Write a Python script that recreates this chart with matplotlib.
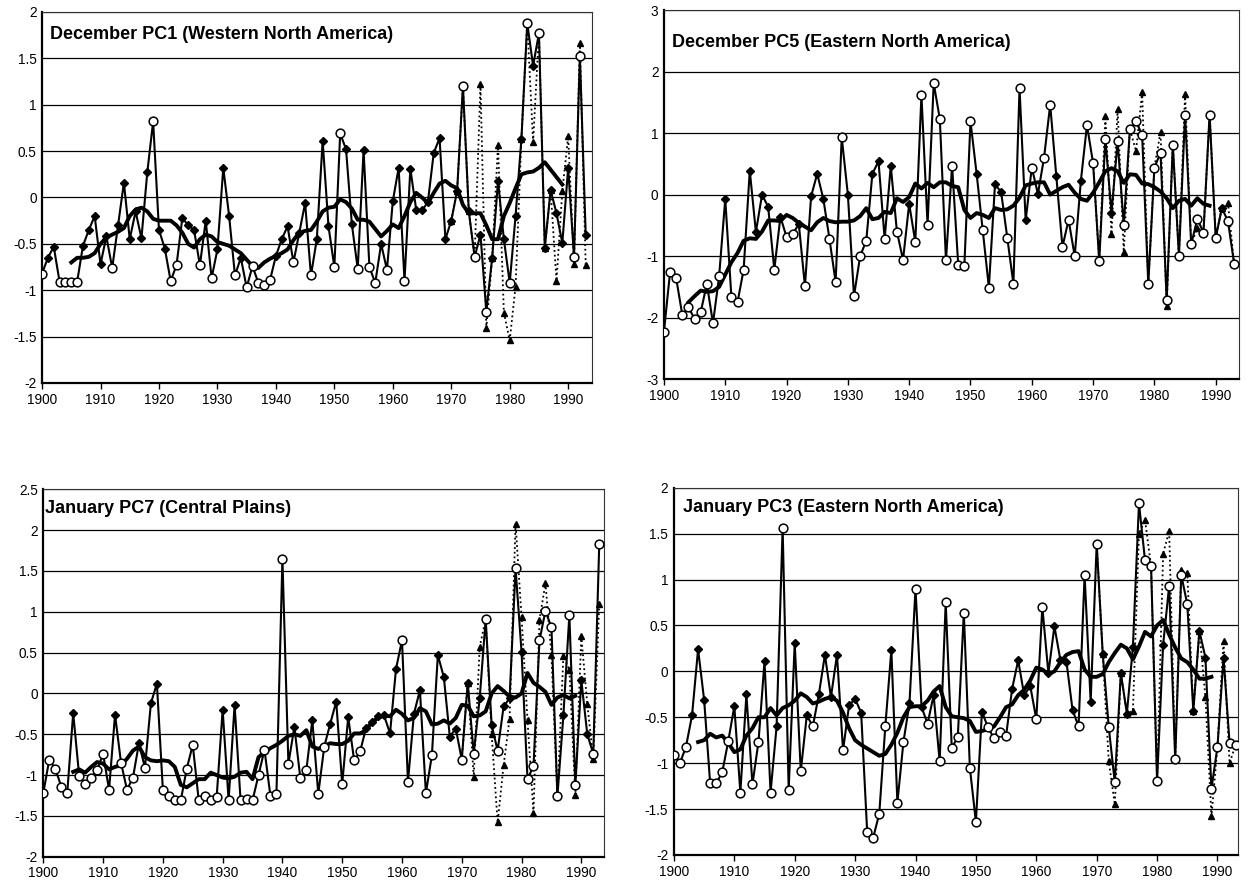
import matplotlib
matplotlib.use("Agg")
import matplotlib.pyplot as plt
from matplotlib.ticker import FuncFormatter, MultipleLocator

plt.rcParams['font.family'] = ['Liberation Sans', 'DejaVu Sans']
plt.rcParams['axes.unicode_minus'] = False

years = list(range(1900, 1994))
alt_years = list(range(1970, 1994))
xticks = list(range(1900, 1991, 10))

titles = ["December PC1 (Western North America)",
          "December PC5 (Eastern North America)",
          "January PC7 (Central Plains)",
          "January PC3 (Eastern North America)"]

# ---------------- December PC1 ----------------
dec1_main = [-0.82, -0.65, -0.53, -0.91, -0.91, -0.91, -0.91, -0.52, -0.35, -0.20,
             -0.72, -0.42, -0.76, -0.30, 0.16, -0.45, -0.15, -0.44, 0.27, 0.82,
             -0.35, -0.55, -0.90, -0.73, -0.22, -0.30, -0.35, -0.73, -0.25, -0.87,
             -0.56, 0.32, -0.20, -0.84, -0.65, -0.97, -0.74, -0.92, -0.94, -0.89,
             -0.63, -0.45, -0.31, -0.70, -0.38, -0.06, -0.84, -0.45, 0.61, -0.31,
             -0.75, 0.69, 0.52, -0.29, -0.77, 0.51, -0.75, -0.92, -0.50, -0.78,
             -0.04, 0.32, -0.90, 0.31, -0.13, -0.14, -0.05, 0.48, 0.64, -0.45,
             -0.25, 0.07, 1.20, -0.15, -0.64, -0.40, -1.23, -0.65, 0.18, -0.45,
             -0.92, -0.20, 0.63, 1.88, 1.42, 1.77, -0.54, 0.08, -0.17, -0.49,
             0.32, -0.64, 1.53, -0.40]
dec1_marks = ("oddooooddd" "ddoddddddo" "ddoodddodo" "dddodooooo" "dddoddoddd"
              "ooddodoodo" "ddoddddddd" "ddodododdd" "oddododddd" "dood")
dec1_alt = [-0.25, 0.07, 1.20, -0.15, -0.64, 1.22, -1.41, -0.65, 0.57, -1.24,
            -1.54, -0.96, 0.63, 1.88, 0.60, 1.77, -0.54, 0.08, -0.90, 0.07,
            0.66, -0.72, 1.67, -0.73]
dec1_smooth_start = 1905
dec1_smooth = [-0.70, -0.65, -0.65, -0.64, -0.60,
               -0.50, -0.43, -0.40, -0.37, -0.33, -0.20, -0.13, -0.11, -0.15, -0.23,
               -0.25, -0.25, -0.25, -0.30, -0.38, -0.50, -0.54, -0.45, -0.40, -0.42,
               -0.48, -0.50, -0.52, -0.56, -0.60, -0.67, -0.74, -0.76, -0.70, -0.66,
               -0.63, -0.60, -0.56, -0.46, -0.38, -0.36, -0.35, -0.26, -0.15, -0.11,
               -0.10, -0.02, -0.05, -0.12, -0.24, -0.24, -0.26, -0.34, -0.42, -0.36,
               -0.29, -0.33, -0.20, -0.05, 0.05, 0.00, -0.06, 0.05, 0.15, 0.18,
               0.13, 0.10, -0.08, -0.17, -0.17, -0.17, -0.30, -0.45, -0.45, -0.20,
               -0.06, 0.10, 0.25, 0.27, 0.28, 0.32, 0.38, 0.30, 0.22, 0.14]

# ---------------- December PC5 ----------------
dec5_main = [-2.23, -1.26, -1.36, -1.96, -1.83, -2.02, -1.91, -1.45, -2.09, -1.33,
             -0.07, -1.66, -1.75, -1.22, 0.39, -0.61, 0.00, -0.20, -1.22, -0.36,
             -0.69, -0.64, -0.48, -1.49, -0.03, 0.34, -0.07, -0.72, -1.42, 0.93,
             0.00, -1.65, -1.00, -0.75, 0.34, 0.54, -0.72, 0.47, -0.60, -1.06,
             -0.15, -0.77, 1.62, -0.49, 1.81, 1.23, -1.07, 0.47, -1.14, -1.16,
             1.19, 0.34, -0.58, -1.51, 0.17, 0.04, -0.70, -1.45, 1.73, -0.42,
             0.44, 0.01, 0.60, 1.46, 0.30, -0.85, -0.41, -1.00, 0.22, 1.13,
             0.51, -1.08, 0.91, -0.30, 0.87, -0.50, 1.06, 1.19, 0.97, -1.45,
             0.44, 0.68, -1.72, 0.81, -1.00, 1.30, -0.81, -0.39, -0.62, 1.30,
             -0.70, -0.22, -0.43, -1.12]
dec5_marks = ("oooooooooo" "doooddddod" "oododddooo" "doooddodoo" "dooooooooo"
              "odooddoood" "odoodooodo" "ooodoooooo" "oooooooooo" "odoo")
dec5_alt = [0.51, -1.08, 1.27, -0.64, 1.39, -0.93, 1.06, 0.71, 1.66, -1.45,
            0.44, 1.02, -1.81, 0.81, -1.00, 1.63, -0.81, -0.54, -0.62, 1.30,
            -0.70, -0.22, -0.14, -1.12]
dec5_smooth_start = 1904
dec5_smooth = [-1.75, -1.65, -1.56, -1.58, -1.57, -1.50,
               -1.30, -1.10, -0.95, -0.75, -0.71, -0.72, -0.60, -0.42, -0.42, -0.43,
               -0.33, -0.38, -0.46, -0.52, -0.58, -0.45, -0.38, -0.43, -0.45, -0.44,
               -0.44, -0.42, -0.35, -0.22, -0.40, -0.38, -0.28, -0.30, -0.06, -0.12,
               -0.04, 0.18, 0.10, 0.19, 0.12, 0.20, 0.20, 0.14, 0.12, -0.25,
               -0.38, -0.30, -0.33, -0.38, -0.22, -0.25, -0.24, -0.18, -0.05, 0.15,
               0.18, 0.20, 0.20, 0.00, 0.06, 0.12, 0.16, 0.03, -0.07, -0.10,
               0.03, 0.20, 0.38, 0.43, 0.38, 0.19, 0.33, 0.32, 0.18, 0.17,
               0.12, 0.05, -0.06, -0.22, -0.10, -0.07, -0.18, -0.06, -0.15, -0.18]

# ---------------- January PC7 ----------------
jan7_main = [-1.22, -0.81, -0.92, -1.14, -1.22, -0.24, -1.01, -1.11, -1.04, -0.94,
             -0.74, -1.18, -0.26, -0.85, -1.18, -1.03, -0.61, -0.91, -0.12, 0.12,
             -1.18, -1.26, -1.30, -1.31, -0.92, -0.63, -1.31, -1.26, -1.31, -1.27,
             -0.20, -1.31, -0.14, -1.31, -1.29, -1.31, -1.00, -0.69, -1.26, -1.23,
             1.65, -0.86, -0.41, -1.04, -0.94, -0.33, -1.23, -0.65, -0.37, -0.10,
             -1.11, -0.29, -0.82, -0.71, -0.42, -0.35, -0.28, -0.27, -0.49, 0.30,
             0.65, -1.08, -0.25, 0.04, -1.22, -0.76, 0.47, 0.20, -0.53, -0.43,
             -0.81, 0.13, -0.74, -0.06, 0.91, -0.39, -0.70, -0.16, -0.06, 1.53,
             0.51, -1.05, -0.89, 0.65, 1.01, 0.81, -1.26, -0.27, 0.96, -1.12,
             0.16, -0.50, -0.74, 1.83]
jan7_marks = ("ooooodoooo" "oodooododd" "oooooooooo" "dodooooooo" "oodoodoodd"
              "odoodddddd" "ooddoodddd" "ododododdo" "doooooodoo" "ddoo")
jan7_alt = [-0.81, 0.13, -1.02, 0.57, 0.91, -0.50, -1.58, -0.88, -0.31, 2.08,
            0.94, -0.33, -1.46, 0.90, 1.35, 0.47, -1.26, 0.46, 0.29, -1.24,
            0.70, -0.13, -0.80, 1.10]
jan7_smooth_start = 1905
jan7_smooth = [-0.96, -0.93, -0.97, -0.90, -0.84,
               -0.86, -0.93, -0.90, -0.88, -0.80, -0.70, -0.65, -0.78, -0.82, -0.83,
               -0.82, -0.83, -0.90, -1.12, -1.15, -1.10, -1.05, -1.05, -0.97, -1.00,
               -1.03, -1.04, -1.02, -0.97, -0.96, -1.05, -0.78, -0.72, -0.67, -0.63,
               -0.58, -0.52, -0.50, -0.52, -0.45, -0.65, -0.68, -0.64, -0.61, -0.62,
               -0.62, -0.58, -0.49, -0.49, -0.45, -0.35, -0.30, -0.27, -0.28, -0.20,
               -0.25, -0.33, -0.30, -0.18, -0.22, -0.38, -0.37, -0.33, -0.37, -0.30,
               -0.14, -0.15, -0.28, -0.27, -0.22, 0.00, 0.09, 0.03, -0.04, -0.05,
               0.00, 0.25, 0.13, 0.08, 0.02, -0.14, -0.05, -0.02, -0.06, -0.03]

# ---------------- January PC3 ----------------
jan3_main = [-0.91, -1.00, -0.82, -0.48, 0.24, -0.31, -1.22, -1.22, -1.10, -0.76,
             -0.38, -1.32, -0.25, -1.23, -0.77, 0.11, -1.32, -0.60, 1.56, -1.29,
             0.31, -1.09, -0.48, -0.60, -0.25, 0.18, -0.28, 0.18, -0.86, -0.37,
             -0.30, -0.45, -1.75, -1.81, -1.55, -0.60, 0.23, -1.43, -0.77, -0.35,
             0.90, -0.39, -0.57, -0.26, -0.98, 0.75, -0.83, -0.72, 0.64, -1.05,
             -1.64, -0.44, -0.61, -0.73, -0.66, -0.70, -0.19, 0.12, -0.26, -0.16,
             -0.52, 0.70, -0.02, 0.49, 0.12, 0.10, -0.42, -0.60, 1.05, -0.33,
             1.39, 0.19, -0.61, -1.21, -0.02, -0.46, 0.27, 1.83, 1.21, 1.15,
             -1.19, 0.29, 0.93, -0.96, 1.05, 0.73, -0.43, 0.44, 0.15, -1.28,
             -0.82, 0.15, -0.78, -0.80]
jan3_marks = ("ooodddoooo" "dodoododoo" "dododdddod" "ddoooodood" "ododoooooo"
              "odoooodddd" "oodddddood" "odoodddooo" "odoooodddo" "odoo")
jan3_alt = [1.39, 0.19, -0.98, -1.45, -0.02, -0.46, -0.43, 1.50, 1.65, 1.15,
            -1.19, 1.28, 1.53, -0.96, 1.10, 1.07, -0.43, 0.44, -0.28, -1.58,
            -0.82, 0.33, -1.00, -0.80]
jan3_smooth_start = 1904
jan3_smooth = [-0.77, -0.75, -0.68, -0.72, -0.70, -0.78,
               -0.88, -0.85, -0.70, -0.62, -0.50, -0.50, -0.40, -0.48, -0.40, -0.37,
               -0.32, -0.24, -0.28, -0.35, -0.33, -0.30, -0.28, -0.32, -0.45, -0.62,
               -0.75, -0.80, -0.84, -0.88, -0.92, -0.90, -0.80, -0.67, -0.50, -0.39,
               -0.38, -0.38, -0.32, -0.22, -0.16, -0.39, -0.49, -0.50, -0.51, -0.54,
               -0.66, -0.65, -0.63, -0.60, -0.50, -0.39, -0.36, -0.26, -0.20, -0.10,
               0.04, 0.02, -0.03, 0.00, 0.10, 0.18, 0.21, 0.22, 0.02, -0.06,
               -0.06, -0.03, 0.10, 0.20, 0.29, 0.25, 0.13, 0.27, 0.43, 0.38,
               0.50, 0.56, 0.40, 0.26, 0.14, 0.10, 0.02, -0.08, -0.08, -0.06]

panels = [
    dict(rect=[0.0337, 0.5687, 0.4403, 0.4178], main=dec1_main, marks=dec1_marks,
         alt=dec1_alt, smooth=dec1_smooth, s0=dec1_smooth_start,
         ylim=(-2, 2), ystep=0.5, xmax=1994.0, title=titles[0], tpos=(0.015, 0.938)),
    dict(rect=[0.532, 0.573, 0.4608, 0.4157], main=dec5_main, marks=dec5_marks,
         alt=dec5_alt, smooth=dec5_smooth, s0=dec5_smooth_start,
         ylim=(-3, 3), ystep=1, xmax=1993.8, title=titles[1], tpos=(0.014, 0.913)),
    dict(rect=[0.0347, 0.0352, 0.4493, 0.4138], main=jan7_main, marks=jan7_marks,
         alt=jan7_alt, smooth=jan7_smooth, s0=jan7_smooth_start,
         ylim=(-2, 2.5), ystep=0.5, xmax=1993.8, title=titles[2], tpos=(0.003, 0.948)),
    dict(rect=[0.540, 0.0372, 0.452, 0.4136], main=jan3_main, marks=jan3_marks,
         alt=jan3_alt, smooth=jan3_smooth, s0=jan3_smooth_start,
         ylim=(-2, 2), ystep=0.5, xmax=1993.4, title=titles[3], tpos=(0.016, 0.945)),
]

fig = plt.figure(figsize=(12.48, 8.88), dpi=100)
fmt = FuncFormatter(lambda v, p: ('%g' % round(v, 2)))

for p in panels:
    ax = fig.add_axes(p['rect'])
    ax.set_xlim(1900, p['xmax'])
    ax.set_ylim(*p['ylim'])
    ax.yaxis.set_major_locator(MultipleLocator(p['ystep']))
    ax.yaxis.set_major_formatter(fmt)
    ax.set_xticks(xticks)
    ax.grid(axis='y', color='black', linewidth=0.9, zorder=0)
    ax.set_axisbelow(True)
    for s in ['top', 'right']:
        ax.spines[s].set_linewidth(0.8)
        ax.spines[s].set_color('#333333')
    for s in ['left', 'bottom']:
        ax.spines[s].set_linewidth(1.6)
    ax.tick_params(axis='y', length=0, labelsize=9.8, pad=4)
    ax.tick_params(axis='x', length=4, width=1.0, direction='out', labelsize=9.8, pad=3)

    # alternate (dotted) series
    ax.plot(alt_years, p['alt'], linestyle=(0, (1, 1.6)), color='black', linewidth=1.3,
            marker='^', markersize=4, markerfacecolor='black', markeredgecolor='black',
            zorder=2)
    # main series
    ax.plot(years, p['main'], color='black', linewidth=1.5, zorder=3)
    dy = [y for y, m in zip(years, p['marks']) if m == 'd']
    dv = [v for v, m in zip(p['main'], p['marks']) if m == 'd']
    oy = [y for y, m in zip(years, p['marks']) if m == 'o']
    ov = [v for v, m in zip(p['main'], p['marks']) if m == 'o']
    ax.plot(dy, dv, linestyle='none', marker='D', markersize=3.6, color='black', zorder=4)
    # smoothed curve
    sy = list(range(p['s0'], p['s0'] + len(p['smooth'])))
    ax.plot(sy, p['smooth'], color='black', linewidth=2.8, solid_joinstyle='round',
            zorder=5)
    ax.plot(oy, ov, linestyle='none', marker='o', markersize=6.3, markerfacecolor='white',
            markeredgecolor='black', markeredgewidth=1.1, zorder=6)

    ax.text(p['tpos'][0], p['tpos'][1], p['title'], transform=ax.transAxes,
            fontsize=13, fontweight='bold', ha='left', va='center', zorder=7)

fig.savefig('out.png', dpi=100)
